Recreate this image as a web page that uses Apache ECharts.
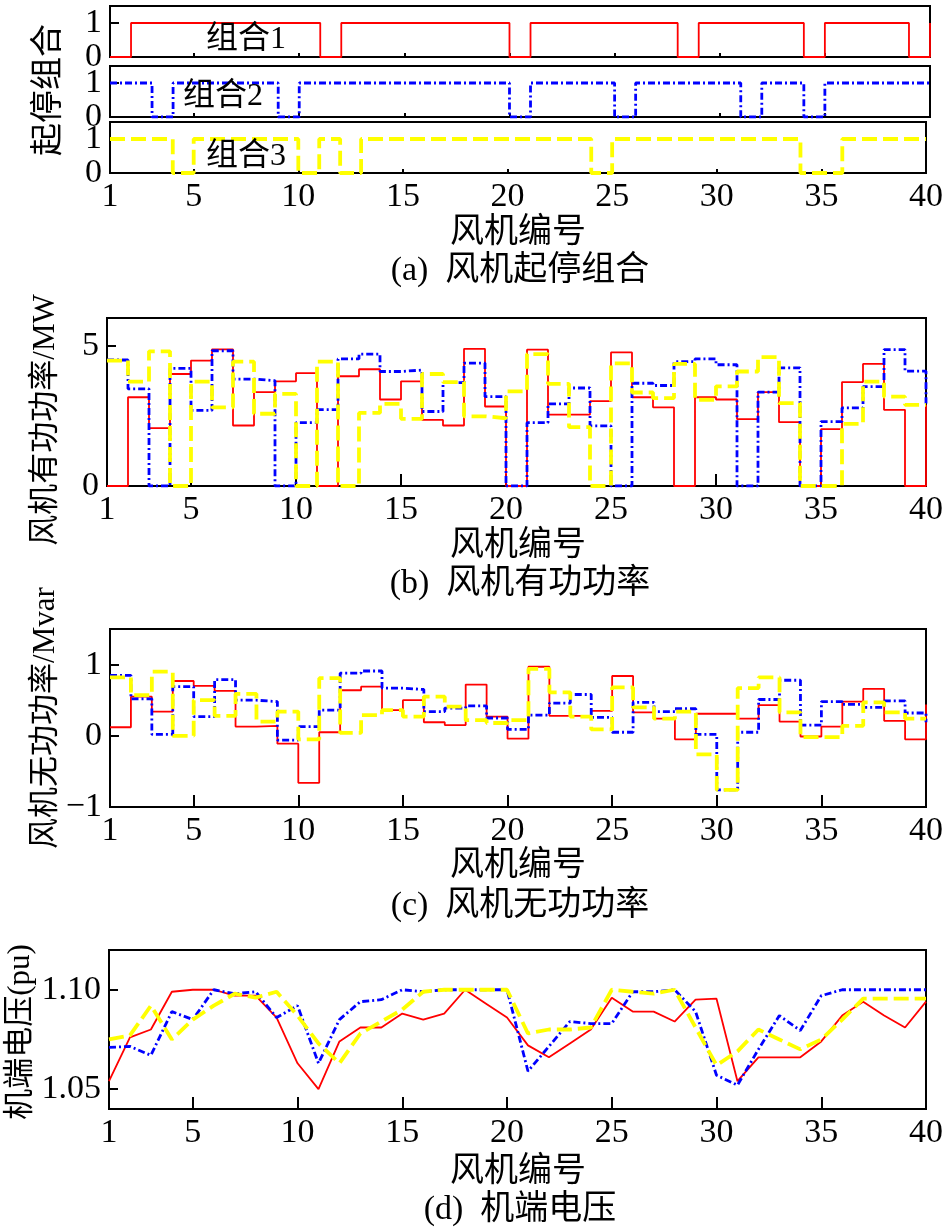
<!DOCTYPE html>
<html><head><meta charset="utf-8">
<script src="https://cdn.jsdelivr.net/npm/echarts@6/dist/echarts.min.js"></script>
<style>html,body{margin:0;padding:0;background:#fff;}#c{width:946px;height:1228px;}</style>
</head><body><div id="c"></div>
<script>
// ---------------- data ----------------
const turbineIds = [1,2,3,4,5,6,7,8,9,10,11,12,13,14,15,16,17,18,19,20,21,22,23,24,25,26,27,28,29,30,31,32,33,34,35,36,37,38,39,40];
const xTickValues = [1,5,10,15,20,25,30,35,40];

// (a) on/off state of each turbine for the three combinations
const combo1On = [0,1,1,1,1,1,1,1,1,1, 0,1,1,1,1,1,1,1,1,0, 1,1,1,1,1,1,1,0,1,1, 1,1,1,0,1,1,1,1,0,1];
const combo2On = [1,1,0,1,1,1,1,1,0,1, 1,1,1,1,1,1,1,1,1,0, 1,1,1,1,0,1,1,1,1,1, 0,1,1,0,1,1,1,1,1,1];
const combo3On = [1,1,1,0,1,1,1,1,1,0, 1,0,1,1,1,1,1,1,1,1, 1,1,1,0,1,1,1,1,1,1, 1,1,1,0,0,1,1,1,1,1];

// (b) active power, MW
const combo1P = [0,3.17,2.07,4.0,4.48,4.88,2.16,3.35,3.74,4.03, 0,3.92,4.17,3.09,3.74,2.36,2.16,4.9,2.84,0, 4.87,2.55,2.55,3.03,4.77,3.17,2.81,0,3.17,3.09, 2.39,3.35,2.28,0,2.03,3.71,4.36,2.72,0,2.9];
const combo2P = [4.5,3.47,0,4.2,2.7,4.83,3.82,3.76,0,2.26, 2.73,4.54,4.71,4.09,4.14,2.66,3.69,4.39,3.19,0, 2.26,2.93,3.5,2.15,0,3.67,3.59,4.44,4.54,4.33, 0,3.35,4.22,0,2.3,2.79,3.55,4.87,4.1,2.95];
const combo3P = [4.48,3.73,4.81,0,3.73,2.81,4.44,2.58,3.29,0, 4.44,0,2.61,2.93,2.4,4.0,3.71,2.49,2.42,3.38, 4.71,3.65,2.1,0,4.38,3.34,3.14,4.36,3.08,3.56, 4.09,4.6,2.96,0,0,2.22,3.73,3.19,2.9,2.9];

// (c) reactive power, Mvar
const combo1Q = [0.12,0.55,0.34,0.77,0.70,0.63,0.13,0.14,-0.11,-0.66, 0.05,0.64,0.69,0.36,0.50,0.19,0.15,0.72,0.27,-0.04, 0.97,0.28,0.28,0.35,0.84,0.33,0.24,-0.05,0.31,0.31, 0.24,0.43,0.20,-0.01,0.13,0.48,0.66,0.21,-0.05,0.44];
const combo2Q = [0.85,0.52,0.02,0.69,0.27,0.79,0.50,0.48,-0.06,0.13, 0.36,0.88,0.91,0.67,0.65,0.34,0.39,0.42,0.25,0.09, 0.29,0.46,0.58,0.26,0.05,0.47,0.34,0.38,0.02,-0.76, 0.05,0.51,0.78,0.15,0.48,0.44,0.40,0.49,0.32,0.19];
const combo3Q = [0.82,0.57,0.90,0.0,0.50,0.28,0.59,0.20,0.34,-0.05, 0.81,0.04,0.29,0.36,0.27,0.55,0.41,0.22,0.18,0.22, 0.94,0.61,0.27,0.09,0.68,0.40,0.24,0.34,-0.26,-0.76, 0.67,0.82,0.33,-0.02,-0.02,0.14,0.47,0.33,0.24,0.24];

// (d) terminal voltage, pu
const combo1V = [1.054,1.076,1.080,1.099,1.100,1.100,1.097,1.097,1.086,1.063, 1.050,1.074,1.081,1.081,1.088,1.085,1.088,1.100,1.093,1.086, 1.072,1.066,1.073,1.080,1.096,1.089,1.089,1.084,1.095,1.0955, 1.054,1.066,1.066,1.066,1.074,1.087,1.094,1.087,1.081,1.094];
const combo2V = [1.071,1.0715,1.067,1.089,1.085,1.100,1.098,1.099,1.086,1.092, 1.063,1.085,1.094,1.095,1.100,1.099,1.100,1.100,1.100,1.100, 1.059,1.0715,1.084,1.083,1.083,1.099,1.099,1.100,1.089,1.057, 1.052,1.070,1.087,1.0795,1.097,1.100,1.100,1.100,1.100,1.100];
const combo3V = [1.075,1.077,1.092,1.075,1.085,1.092,1.098,1.096,1.099,1.087, 1.073,1.063,1.078,1.084,1.090,1.099,1.100,1.100,1.100,1.100, 1.078,1.080,1.080,1.081,1.100,1.099,1.098,1.100,1.081,1.062, 1.069,1.080,1.075,1.070,1.075,1.085,1.0955,1.0955,1.0955,1.0955];

const seriesNames = ['组合1','组合2','组合3'];

// ---------------- chart ----------------
const FONT = '"Liberation Serif","Noto Sans CJK SC",serif';
const pair = (ys) => turbineIds.map((x,i) => [x, ys[i]]);
const fmtNum = (v) => (v < 0 ? '\u2212' + Math.abs(v) : String(v));

const styles = [
  {color:'#ff0000', width:1.8, type:'solid'},
  {color:'#0000ff', width:2.8, type:[7,3,2,3]},
  {color:'#ffff00', width:3.8, type:[15,6]}
];

const grids = [
  {left:110, top:6,   width:820, height:51},
  {left:110, top:66,  width:820, height:51},
  {left:110, top:122, width:820, height:51},
  {left:107, top:318, width:819, height:168},
  {left:110, top:629, width:818, height:178},
  {left:109, top:950, width:819, height:159}
].map(g => Object.assign({show:true, borderColor:'#000', borderWidth:2, backgroundColor:'transparent'}, g));

function xAx(gi, tickLen, labels) {
  return {
    type:'value', gridIndex:gi, min:1, max:40,
    axisLine:{show:true, onZero:false, lineStyle:{color:'#000', width:2}},
    axisTick:{show:true, inside:true, length:tickLen, customValues:xTickValues, lineStyle:{color:'#000', width:2}},
    axisLabel:{show:labels, customValues:xTickValues, margin:7, color:'#000', fontFamily:FONT, fontSize:34},
    splitLine:{show:false}
  };
}
function yAx(gi, min, max, ticks, fmt) {
  return {
    type:'value', gridIndex:gi, min:min, max:max,
    axisLine:{show:true, onZero:false, lineStyle:{color:'#000', width:2}},
    axisTick:{show:true, inside:true, length:9, customValues:ticks, lineStyle:{color:'#000', width:2}},
    axisLabel:{show:true, customValues:ticks, margin:8, color:'#000', fontFamily:FONT, fontSize:34, formatter:fmt},
    splitLine:{show:false}
  };
}

const xAxis = [xAx(0,4,false), xAx(1,4,false), xAx(2,4,true), xAx(3,12,true), xAx(4,12,true), xAx(5,12,true)];
const yAxis = [
  yAx(0,0,1.5,[0,1],fmtNum), yAx(1,0,1.5,[0,1],fmtNum), yAx(2,0,1.5,[0,1],fmtNum),
  yAx(3,0,6,[0,5],fmtNum), yAx(4,-1,1.5,[-1,0,1],fmtNum),
  yAx(5,1.04,1.12,[1.05,1.10],v=>v.toFixed(2))
];

function line(name, gi, ys, k, step) {
  return {
    name, type:'line', xAxisIndex:gi, yAxisIndex:gi, data:pair(ys),
    step: step ? 'end' : false, showSymbol:false, symbol:'none', animation:false,
    lineStyle:{color:styles[k].color, width:styles[k].width, type:styles[k].type},
    itemStyle:{color:styles[k].color}, z: 2 + k, silent:true
  };
}

const series = [
  line(seriesNames[0],0,combo1On,0,true),
  line(seriesNames[1],1,combo2On,1,true),
  line(seriesNames[2],2,combo3On,2,true),
  line(seriesNames[0],3,combo1P,0,true),
  line(seriesNames[1],3,combo2P,1,true),
  line(seriesNames[2],3,combo3P,2,true),
  line(seriesNames[0],4,combo1Q,0,true),
  line(seriesNames[1],4,combo2Q,1,true),
  line(seriesNames[2],4,combo3Q,2,true),
  line(seriesNames[0],5,combo1V,0,false),
  line(seriesNames[1],5,combo2V,1,false),
  line(seriesNames[2],5,combo3V,2,false)
];

function txt(s, x, y, size, rot) {
  return {type:'text', x:x, y:y, rotation:rot||0, z:100,
    style:{text:s, font:size+'px '+FONT, fill:'#000', textAlign:'center', textVerticalAlign:'middle'}};
}

const graphic = [
  txt(seriesNames[0], 246, 40, 32),
  txt(seriesNames[1], 223, 97, 32),
  txt(seriesNames[2], 246, 157, 32),
  txt('起停组合', 49, 90, 33, Math.PI/2),
  txt('风机编号', 518, 233, 34),
  txt('(a)  风机起停组合', 520, 271, 34),
  txt('风机有功功率/MW', 46, 420, 31, Math.PI/2),
  txt('风机编号', 518, 546, 34),
  txt('(b)  风机有功功率', 520, 584, 34),
  txt('风机无功功率/Mvar', 46, 718, 31, Math.PI/2),
  txt('风机编号', 518, 866, 34),
  txt('(c)  风机无功功率', 520, 906, 34),
  txt('机端电压(pu)', 21, 1032, 31, Math.PI/2),
  txt('风机编号', 518, 1172, 34),
  txt('(d)  机端电压', 520, 1210, 34)
];

const chart = echarts.init(document.getElementById('c'), null, {renderer:'canvas'});
chart.setOption({animation:false, backgroundColor:'#fff', grid:grids, xAxis, yAxis, series, graphic});
</script></body></html>
